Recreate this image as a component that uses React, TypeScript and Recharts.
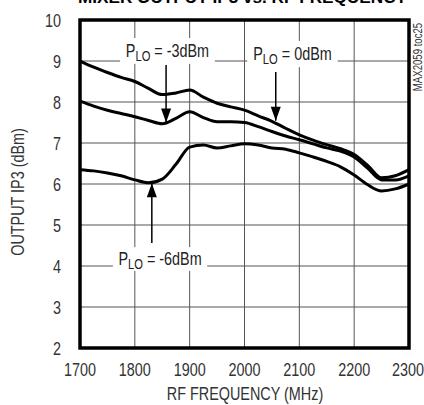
import React from 'react';
import {
  LineChart,
  Line,
  XAxis,
  YAxis,
  ReferenceArea,
  ReferenceLine,
  ReferenceDot,
} from 'recharts';

const FONT = "'Liberation Sans', Arial, sans-serif";
const SQUEEZE = 0.8; // condensed look of the original type

const freq = [1700, 1725, 1750, 1775, 1800, 1825, 1850, 1875, 1900, 1925, 1950, 1975, 2000, 2025, 2050, 2075, 2100, 2125, 2150, 2175, 2200, 2225, 2250, 2275, 2300];
const ip3Lo0 = [9.0, 8.85, 8.72, 8.6, 8.5, 8.33, 8.18, 8.22, 8.29, 8.12, 7.97, 7.88, 7.8, 7.66, 7.53, 7.36, 7.2, 7.07, 6.96, 6.86, 6.72, 6.45, 6.15, 6.2, 6.35];
const ip3LoM3 = [8.02, 7.9, 7.8, 7.72, 7.64, 7.55, 7.47, 7.6, 7.76, 7.62, 7.52, 7.52, 7.5, 7.4, 7.28, 7.17, 7.08, 6.98, 6.88, 6.8, 6.66, 6.38, 6.1, 6.1, 6.2];
const ip3LoM6 = [6.35, 6.32, 6.27, 6.2, 6.1, 6.03, 6.12, 6.48, 6.9, 6.95, 6.88, 6.93, 6.98, 6.95, 6.88, 6.85, 6.76, 6.66, 6.55, 6.42, 6.22, 5.98, 5.83, 5.88, 6.0];

const xTicks = [1700, 1800, 1900, 2000, 2100, 2200, 2300];
const yTicks = [2, 3, 4, 5, 6, 7, 8, 9, 10];
const xMin = 1700;
const xMax = 2300;
const yMin = 2;
const yMax = 10;

// annotation boxes: [label, x1, x2, y1, y2]
const labelBoxes: Array<[string, number, number, number, number]> = [
  ['-3dBm', 1773, 1946, 8.93, 9.56],
  ['0dBm', 2005, 2170, 8.85, 9.49],
  ['-6dBm', 1760, 1932, 3.88, 4.46],
];
// arrows: [x, tail y, tip y, direction]
const arrows: Array<[number, number, number, 'down' | 'up']> = [
  [1857, 8.9, 7.5, 'down'],
  [2057, 8.73, 7.54, 'down'],
  [1831, 4.56, 6.02, 'up'],
];

const data = freq.map((f, i) => ({ f, lo0: ip3Lo0[i], loM3: ip3LoM3[i], loM6: ip3LoM6[i] }));

// chart box
const W = 424;
const H = 405;
const M = { top: 20, right: 15, bottom: 0, left: 0 };
const Y_AXIS_W = 80;
const X_AXIS_H = 57;
const plotL = M.left + Y_AXIS_W;
const plotT = M.top;
const plotW = W - plotL - M.right;
const plotH = H - plotT - M.bottom - X_AXIS_H;
const px = (x: number) => plotL + ((x - xMin) / (xMax - xMin)) * plotW;
const py = (y: number) => plotT + ((yMax - y) / (yMax - yMin)) * plotH;

// split [lo, hi] around gaps so grid lines stop at the label boxes
function splitRange(lo: number, hi: number, gaps: Array<[number, number]>) {
  const parts: Array<[number, number]> = [];
  let start = lo;
  gaps.sort((a, b) => a[0] - b[0]).forEach(([g1, g2]) => {
    if (g1 > start) parts.push([start, g1]);
    start = Math.max(start, g2);
  });
  if (start < hi) parts.push([start, hi]);
  return parts;
}

const vGrid = xTicks.slice(1, -1).flatMap((x) =>
  splitRange(
    yMin,
    yMax,
    labelBoxes.filter((b) => b[1] < x && x < b[2]).map((b) => [b[3], b[4]] as [number, number])
  ).map(([a, b]) => ({ key: `v${x}-${a}`, x1: px(x), x2: px(x), y1: py(a), y2: py(b) }))
);
const hGrid = yTicks.slice(1, -1).flatMap((y) =>
  splitRange(
    xMin,
    xMax,
    labelBoxes.filter((b) => b[3] < y && y < b[4]).map((b) => [b[1], b[2]] as [number, number])
  ).map(([a, b]) => ({ key: `h${y}-${a}`, x1: px(a), x2: px(b), y1: py(y), y2: py(y) }))
);

function narrow(key: string, x: number, y: number, content: any, opts: any = {}) {
  const { anchor = 'middle', size = 18, rotate = 0, fill = '#333' } = opts;
  return (
    <text
      key={key}
      transform={`translate(${x},${y}) rotate(${rotate}) scale(${SQUEEZE},1)`}
      textAnchor={anchor}
      fontFamily={FONT}
      fontSize={size}
      fill={fill}
    >
      {content}
    </text>
  );
}

const xTick = (p: any) => narrow(`x${p.index}`, p.x, p.y + 13, p.payload.value);
const yTick = (p: any) => narrow(`y${p.index}`, p.x, p.y + 6.5, p.payload.value, { anchor: 'end' });

const renderBoxLabel = (text: string) => (props: any) => {
  const vb = props.viewBox || {};
  return narrow(
    `lab${text}`,
    vb.x + vb.width / 2,
    vb.y + vb.height / 2 + 6,
    [
      <tspan key="p">P</tspan>,
      <tspan key="s" fontSize={14} dy={4}>LO</tspan>,
      <tspan key="r" dy={-4}>{` = ${text}`}</tspan>,
    ],
    { fill: '#222' }
  );
};

const arrowHead = (dir: 'down' | 'up') => (props: any) => {
  const { cx, cy } = props;
  const h = dir === 'down' ? -14 : 14;
  return <path d={`M${cx},${cy} L${cx - 5},${cy + h} L${cx + 5},${cy + h} Z`} fill="#000" />;
};

export default function App() {
  return (
    <div style={{ position: 'absolute', left: 0, top: 0, width: W, height: H, background: '#fff' }}>
      <LineChart width={W} height={H} data={data} margin={M}>
        <text x={78} y={3} fontFamily={FONT} fontWeight="bold" fontSize={17} textLength={329} lengthAdjust="spacingAndGlyphs" fill="#000">
          MIXER OUTPUT IP3 vs. RF FREQUENCY
        </text>
        {narrow('toc', 422, 57, 'MAX2059 toc25', { rotate: -90, size: 12 })}
        {narrow('ylab', 24, 192, 'OUTPUT IP3 (dBm)', { rotate: -90 })}
        {narrow('xlab', 245, 400, 'RF FREQUENCY (MHz)')}
        {/* grid, broken where the annotation labels sit */}
        {vGrid.concat(hGrid).map((g) => (
          <line key={g.key} x1={g.x1} x2={g.x2} y1={g.y1} y2={g.y2} stroke="#555" strokeWidth={1} />
        ))}
        <XAxis
          dataKey="f"
          type="number"
          domain={[xMin, xMax]}
          ticks={xTicks}
          height={X_AXIS_H}
          tickSize={0}
          tickMargin={15}
          axisLine={false}
          tick={xTick}
        />
        <YAxis
          type="number"
          domain={[yMin, yMax]}
          ticks={yTicks}
          width={Y_AXIS_W}
          tickSize={0}
          tickMargin={19}
          axisLine={false}
          tick={yTick}
        />
        {labelBoxes.map(([t, x1, x2, y1, y2]) => (
          <ReferenceArea
            key={t}
            x1={x1}
            x2={x2}
            y1={y1}
            y2={y2}
            fill="#fff"
            fillOpacity={0}
            stroke="none"
            label={renderBoxLabel(t)}
          />
        ))}
        {arrows.map(([x, y1, y2]) => (
          <ReferenceLine key={`l${x}`} segment={[{ x, y: y1 }, { x, y: y2 }]} stroke="#000" strokeWidth={1.5} />
        ))}
        {arrows.map(([x, , y2, dir]) => (
          <ReferenceDot key={`d${x}`} x={x} y={y2} r={5} shape={arrowHead(dir)} />
        ))}
        <Line type="monotone" dataKey="lo0" stroke="#000" strokeWidth={3} dot={false} isAnimationActive={false} />
        <Line type="monotone" dataKey="loM3" stroke="#000" strokeWidth={3} dot={false} isAnimationActive={false} />
        <Line type="monotone" dataKey="loM6" stroke="#000" strokeWidth={3} dot={false} isAnimationActive={false} />
        <rect x={plotL} y={plotT} width={plotW} height={plotH} fill="none" stroke="#000" strokeWidth={3.5} />
      </LineChart>
    </div>
  );
}
